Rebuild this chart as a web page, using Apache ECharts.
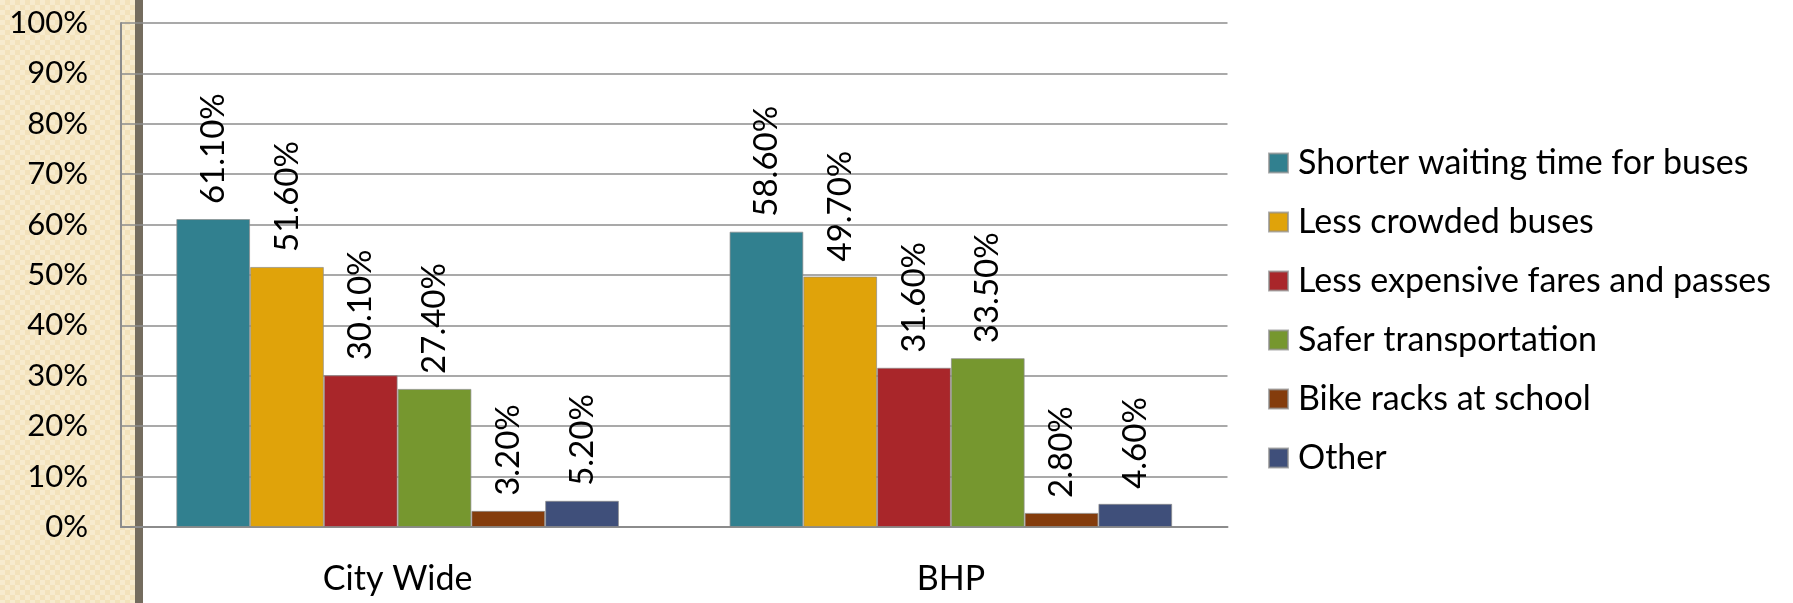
<!DOCTYPE html>
<html>
<head>
<meta charset="utf-8">
<script src="https://cdn.jsdelivr.net/npm/echarts@6/dist/echarts.min.js"></script>
<style>
html,body{margin:0;padding:0;background:#fff;}
#chart{width:1793px;height:603px;}
</style>
</head>
<body>
<div id="chart"></div>
<script>
const categories = ['City Wide', 'BHP'];
const seriesNames = ['Shorter waiting time for buses', 'Less crowded buses', 'Less expensive fares and passes', 'Safer transportation', 'Bike racks at school', 'Other'];
const shorterWaiting = [61.1, 58.6];
const lessCrowded = [51.6, 49.7];
const lessExpensive = [30.1, 31.6];
const saferTransport = [27.4, 33.5];
const bikeRacks = [3.2, 2.8];
const other = [5.2, 4.6];
const seriesValues = [shorterWaiting, lessCrowded, lessExpensive, saferTransport, bikeRacks, other];
const colors = ['#31808F', '#E0A30A', '#A9262A', '#76972F', '#843C0C', '#3F4F7A'];
const yTicks = { min: 0, max: 100, interval: 10 };

const FONT = 'Lato';

// beige patterned panel
const pc = document.createElement('canvas');
pc.width = 10; pc.height = 10;
const pctx = pc.getContext('2d');
pctx.fillStyle = '#F3E2BB';
pctx.fillRect(0, 0, 10, 10);
pctx.fillStyle = '#F7EBCE';
pctx.fillRect(0, 0, 5, 5);
pctx.fillRect(5, 5, 5, 5);

const chart = echarts.init(document.getElementById('chart'), null, { renderer: 'canvas' });
chart.setOption({
  backgroundColor: '#ffffff',
  animation: false,
  graphic: [
    { type: 'rect', z: -10, silent: true, shape: { x: 0, y: 0, width: 135, height: 603 }, style: { fill: { image: pc, repeat: 'repeat' } } },
    { type: 'rect', z: -9, silent: true, shape: { x: 135, y: 0, width: 8, height: 603 }, style: { fill: '#746C5E' } }
  ],
  grid: { left: 121, right: 565.5, top: 23, bottom: 76, containLabel: false },
  legend: {
    orient: 'vertical',
    left: 1268,
    top: 146,
    padding: 0,
    itemWidth: 19,
    itemHeight: 19,
    itemGap: 25,
    icon: 'rect',
    data: seriesNames,
    textStyle: { fontFamily: FONT, fontSize: 34, color: '#000', lineHeight: 34, padding: [0, 0, 0, 5] }
  },
  xAxis: {
    type: 'category',
    data: categories,
    axisLine: { show: true, lineStyle: { color: '#8C8C8C', width: 2 } },
    axisTick: { show: false },
    axisLabel: { fontFamily: FONT, fontSize: 34, color: '#000', margin: 35 }
  },
  yAxis: {
    type: 'value',
    min: yTicks.min,
    max: yTicks.max,
    interval: yTicks.interval,
    axisLine: { show: true, lineStyle: { color: '#8C8C8C', width: 2 } },
    axisTick: { show: false },
    axisLabel: { fontFamily: FONT, fontSize: 31, color: '#000', margin: 33, formatter: '{value}%' },
    splitLine: { show: true, lineStyle: { color: '#8C8C8C', width: 1.5 } }
  },
  series: seriesNames.map((name, i) => ({
    name: name,
    type: 'bar',
    data: seriesValues[i],
    barGap: '0%',
    barCategoryGap: '20%',
    itemStyle: { color: colors[i], borderColor: 'rgba(140,140,140,0.7)', borderWidth: 1 },
    label: {
      show: true,
      position: 'top',
      rotate: 90,
      align: 'left',
      verticalAlign: 'middle',
      distance: 15,
      fontFamily: FONT,
      fontSize: 33,
      color: '#000',
      formatter: p => p.value.toFixed(2) + '%'
    }
  }))
});
</script>
</body>
</html>
